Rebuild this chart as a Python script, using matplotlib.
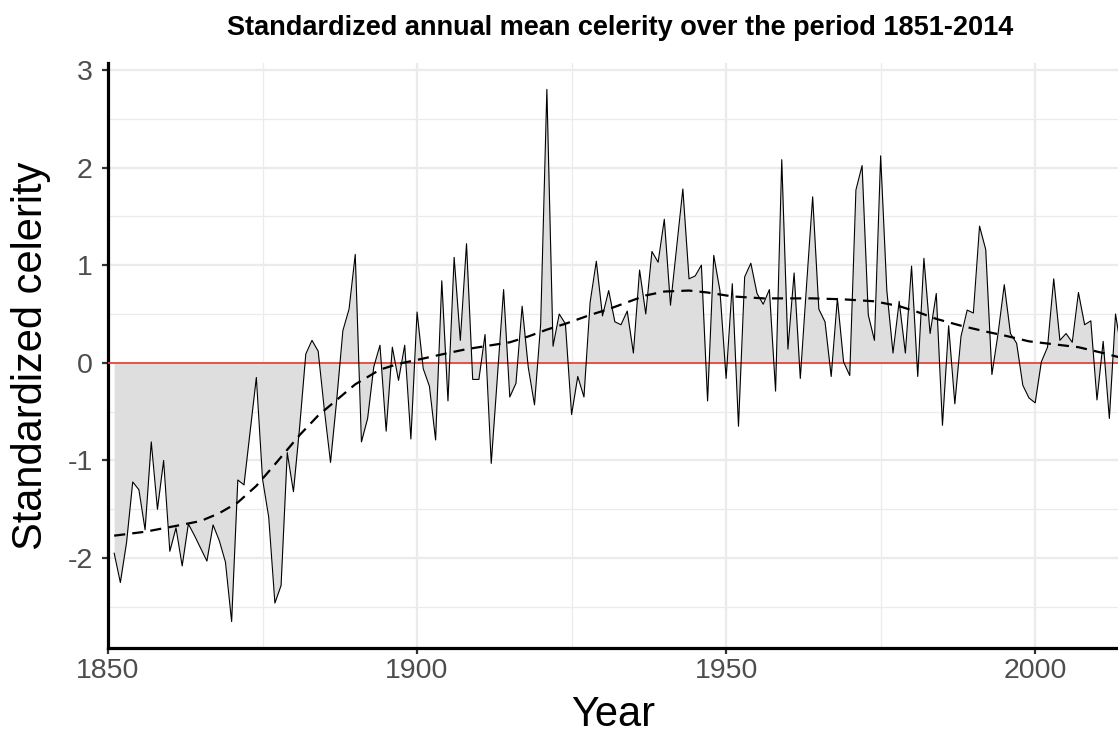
import numpy as np
import matplotlib
matplotlib.use("Agg")
import matplotlib.pyplot as plt
from matplotlib.ticker import MultipleLocator

plt.rcParams['font.family'] = ['Liberation Sans', 'DejaVu Sans']
plt.rcParams['axes.unicode_minus'] = False

# standardized annual mean celerity, 1851-2014
years = np.arange(1851, 2015)
celerity = [
    -1.95, -2.25, -1.84, -1.22, -1.30, -1.71, -0.81, -1.50, -1.00, -1.93,   # 1851-1860
    -1.69, -2.08, -1.65, -1.77, -1.90, -2.03, -1.66, -1.82, -2.04, -2.65,   # 1861-1870
    -1.20, -1.25, -0.70, -0.15, -1.19, -1.58, -2.46, -2.28, -0.92, -1.32,   # 1871-1880
    -0.66, 0.09, 0.23, 0.12, -0.48, -1.02, -0.38, 0.33, 0.55, 1.11,         # 1881-1890
    -0.81, -0.57, -0.04, 0.18, -0.70, 0.16, -0.18, 0.18, -0.78, 0.52,       # 1891-1900
    -0.06, -0.24, -0.79, 0.84, -0.39, 1.08, 0.23, 1.22, -0.17, -0.17,       # 1901-1910
    0.29, -1.03, -0.14, 0.75, -0.35, -0.21, 0.58, -0.05, -0.43, 0.40,       # 1911-1920
    2.80, 0.17, 0.50, 0.40, -0.53, -0.14, -0.35, 0.62, 1.04, 0.48,          # 1921-1930
    0.74, 0.42, 0.39, 0.53, 0.10, 0.95, 0.50, 1.14, 1.03, 1.47,             # 1931-1940
    0.59, 1.18, 1.78, 0.86, 0.89, 1.00, -0.39, 1.10, 0.74, -0.16,           # 1941-1950
    0.81, -0.65, 0.88, 1.02, 0.71, 0.60, 0.75, -0.29, 2.08, 0.14,           # 1951-1960
    0.92, -0.16, 0.78, 1.70, 0.55, 0.42, -0.14, 0.66, 0.01, -0.13,          # 1961-1970
    1.77, 2.02, 0.49, 0.23, 2.12, 0.74, 0.10, 0.63, 0.10, 0.99,             # 1971-1980
    -0.14, 1.07, 0.30, 0.71, -0.64, 0.38, -0.42, 0.27, 0.54, 0.51,          # 1981-1990
    1.40, 1.16, -0.12, 0.30, 0.80, 0.30, 0.20, -0.23, -0.36, -0.41,         # 1991-2000
    0.01, 0.16, 0.86, 0.23, 0.30, 0.21, 0.72, 0.39, 0.43, -0.38,            # 2001-2010
    0.22, -0.57, 0.50, 0.10,                                                # 2011-2014
]

# smoothed trend (dashed)
trend_years = [1851, 1856, 1861, 1865, 1868, 1871, 1874, 1877, 1881, 1884,
               1887, 1890, 1894, 1897, 1900, 1905, 1908, 1912, 1915, 1918,
               1921, 1924, 1928, 1931, 1934, 1937, 1940, 1944, 1947, 1951,
               1956, 1964, 1969, 1974, 1978, 1981, 1984, 1988, 1992, 1995,
               1999, 2003, 2007, 2011, 2014]
trend = [-1.77, -1.73, -1.67, -1.62, -1.54, -1.43, -1.26, -1.04, -0.74, -0.54,
         -0.38, -0.22, -0.07, -0.01, 0.03, 0.10, 0.14, 0.18, 0.21, 0.27,
         0.34, 0.40, 0.49, 0.55, 0.62, 0.69, 0.73, 0.74, 0.72, 0.68,
         0.66, 0.66, 0.65, 0.63, 0.58, 0.52, 0.45, 0.38, 0.32, 0.28,
         0.22, 0.19, 0.16, 0.10, 0.05]

x_ticks = [1850, 1900, 1950, 2000]
y_ticks = [-2, -1, 0, 1, 2, 3]

fig = plt.figure(figsize=(11.18, 7.38), dpi=100)
ax = fig.add_axes([0.0966, 0.122, 0.9034, 0.7926])

ax.fill_between(years, celerity, 0, color='#dedede', linewidth=0, zorder=2)
ax.axhline(0, color='#e5463e', linewidth=1.3, zorder=3)
ax.plot(years, celerity, color='black', linewidth=0.8, zorder=4)
ax.plot(trend_years, trend, color='black', linewidth=1.6,
        linestyle=(0, (5, 3.2)), zorder=5)

ax.set_xlim(1850, 2013.4)
ax.set_ylim(-2.92, 3.07)
ax.set_xticks(x_ticks)
ax.set_yticks(y_ticks)
ax.xaxis.set_minor_locator(MultipleLocator(25))
ax.yaxis.set_minor_locator(MultipleLocator(0.5))

ax.grid(which='major', color='#ebebeb', linewidth=1.6, zorder=0)
ax.grid(which='minor', color='#ebebeb', linewidth=0.9, zorder=0)
ax.set_axisbelow(True)

for side in ['top', 'right']:
    ax.spines[side].set_visible(False)
for side in ['left', 'bottom']:
    ax.spines[side].set_linewidth(2.3)
    ax.spines[side].set_color('black')

ax.tick_params(which='major', length=4, width=1.6, color='#333333',
               labelsize=20.5, labelcolor='#4d4d4d', pad=3)
ax.tick_params(axis='y', which='major', pad=7)
ax.tick_params(which='minor', length=0)

ax.set_xlabel('Year', fontsize=30, labelpad=8)
ax.set_ylabel('Standardized celerity', fontsize=30, labelpad=12)
ax.set_title('Standardized annual mean celerity over the period 1851-2014',
             fontsize=19.5, fontweight='bold', pad=20, x=0.507)

fig.savefig('out.png', dpi=100)
